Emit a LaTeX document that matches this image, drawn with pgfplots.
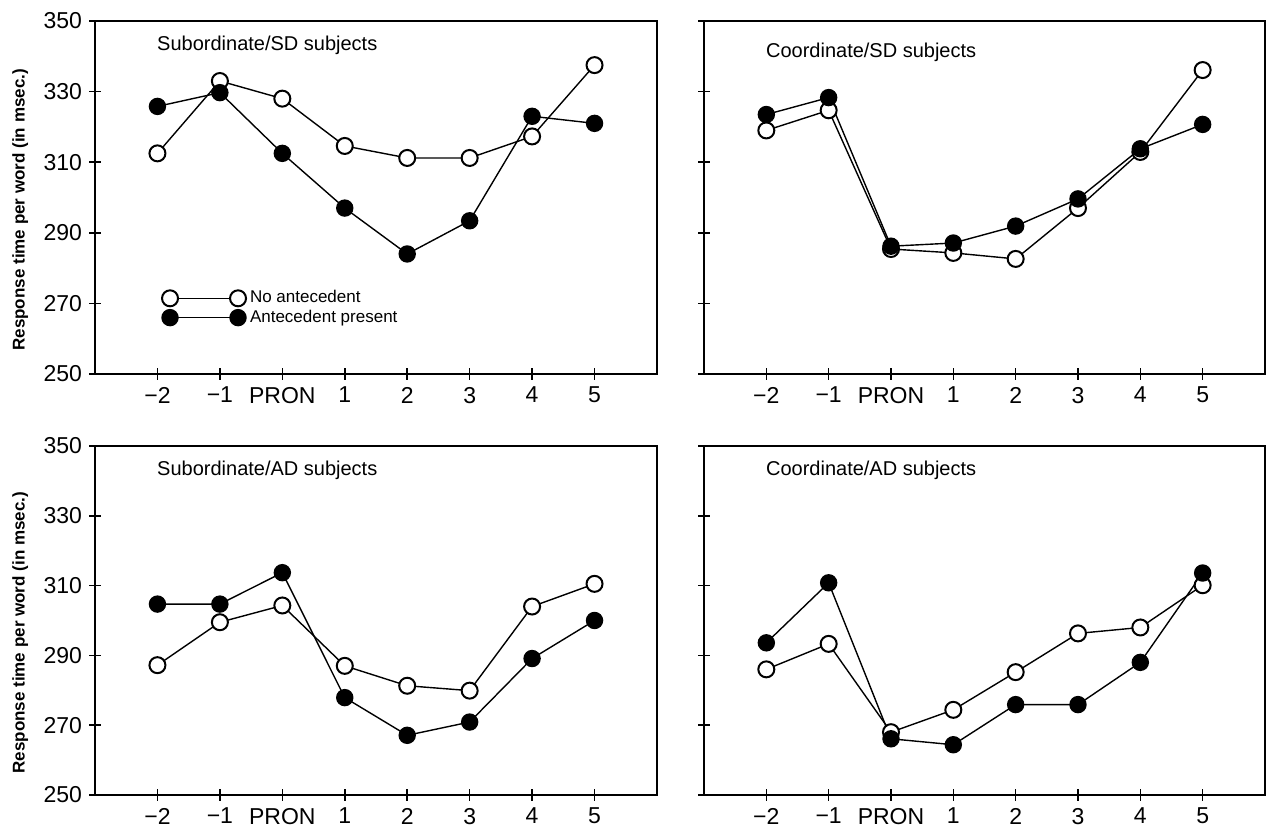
\documentclass[border=0pt]{standalone}
\usepackage{fontspec}
\setmainfont{Liberation Sans}
\usepackage{pgfplots}
\pgfplotsset{compat=1.18}

% x = 0..7 stands for -2, -1, PRON, 1, 2, 3, 4, 5
\pgfplotsset{
  panel/.style={
    scale only axis, width=281pt,
    xmin=-1, xmax=8, ymin=250, ymax=350,
    xtick={0,...,7}, xticklabels={−2,−1,PRON,1,2,3,4,5},
    ytick={250,270,...,350},
    xtick pos=lower, ytick pos=left,
    tick align=center, major tick length=6pt,
    tick style={line width=0.8pt, black},
    axis line style={line width=1pt},
    ticklabel style={font=\fontsize{11.5}{13}\selectfont},
    /pgf/number format/assume math mode=true,
    clip=false,
  },
  noleft/.style={yticklabels={}},
  yresp/.style={
    ylabel={Response time per word (in msec.)},
    ylabel style={at={(rel axis cs:-0.133,0.465)}, anchor=center,
      font=\bfseries\fontsize{8.5}{10}\selectfont},
  },
  noante/.style={black, line width=0.7pt, mark=*, mark size=4pt,
    mark options={fill=white, line width=1pt}},
  ante/.style={black, line width=0.7pt, mark=*, mark size=4pt,
    mark options={fill=black}},
}
\newcommand\paneltitle[2]{\node[anchor=west, inner sep=0pt,
  font=\fontsize{10}{12}\selectfont] at (rel axis cs:0.11,#1) {#2};}

\begin{document}
\begin{tikzpicture}
\path[use as bounding box] (0,0) rectangle (633pt,414.5pt);

% Subordinate/SD
\begin{axis}[panel, yresp, height=176.5pt, at={(47.5pt,227.5pt)}, anchor=south west,
  legend style={draw=none, fill=none, at={(0.115,0.187)}, anchor=west,
    font=\fontsize{8.5}{10}\selectfont, row sep=-2pt, inner sep=1pt},
  legend cell align=left,
  legend image code/.code={\draw[#1, mark repeat=2, mark phase=1]
    plot coordinates {(0pt,0pt) (17pt,0pt) (34pt,0pt)};}]
\addplot[noante] coordinates {(0,312.5) (1,333) (2,328) (3,314.6) (4,311.2) (5,311.2) (6,317.3) (7,337.5)};
\addplot[ante] coordinates {(0,325.8) (1,329.7) (2,312.5) (3,297) (4,284) (5,293.4) (6,323) (7,321)};
\legend{No antecedent, Antecedent present}
\paneltitle{0.932}{Subordinate/SD subjects}
\end{axis}

% Coordinate/SD
\begin{axis}[panel, noleft, width=280.5pt, height=176.5pt, at={(352pt,227.5pt)}, anchor=south west]
\addplot[noante] coordinates {(0,319) (1,324.7) (2,285.4) (3,284.3) (4,282.6) (5,297) (6,312.9) (7,336.1)};
\addplot[ante] coordinates {(0,323.5) (1,328.3) (2,286.2) (3,287.1) (4,291.9) (5,299.6) (6,313.8) (7,320.7)};
\paneltitle{0.912}{Coordinate/SD subjects}
\end{axis}

% Subordinate/AD
\begin{axis}[panel, yresp, height=174.5pt, at={(47.5pt,17pt)}, anchor=south west]
\addplot[noante] coordinates {(0,287.2) (1,299.5) (2,304.3) (3,287) (4,281.3) (5,279.9) (6,304) (7,310.5)};
\addplot[ante] coordinates {(0,304.7) (1,304.7) (2,313.7) (3,277.9) (4,267.1) (5,270.9) (6,289.1) (7,300)};
\paneltitle{0.931}{Subordinate/AD subjects}
\end{axis}

% Coordinate/AD
\begin{axis}[panel, noleft, width=280.5pt, height=174.5pt, at={(352pt,17pt)}, anchor=south west]
\addplot[noante] coordinates {(0,286) (1,293.3) (2,268) (3,274.4) (4,285.2) (5,296.3) (6,298) (7,310.1)};
\addplot[ante] coordinates {(0,293.6) (1,310.8) (2,266.1) (3,264.4) (4,275.9) (5,275.9) (6,288) (7,313.6)};
\paneltitle{0.93}{Coordinate/AD subjects}
\end{axis}
\end{tikzpicture}
\end{document}
